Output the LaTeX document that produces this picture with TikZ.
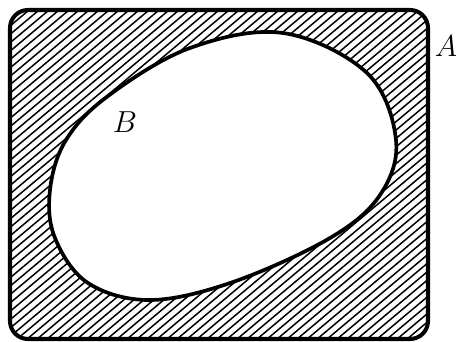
\documentclass[tikz,border=0pt]{standalone}
\usepackage{amsmath,amssymb}
\usepackage{tikz}
\usetikzlibrary{positioning}

\tikzset{
  setbox/.style={line width=2.3pt, rounded corners=0.36cm},
  setblob/.style={line width=2.1pt, fill=white},
  hatchline/.style={line width=0.85pt},
  setlabel/.style={font=\fontsize{19}{22}\selectfont, inner sep=0pt}
}

\begin{document}
\begin{tikzpicture}[x=0.02cm, y=-0.02cm]
  \useasboundingbox (0,0) rectangle (459,341);
  % hatched set A
  \begin{scope}
    \clip[rounded corners=0.36cm] (10,10) rectangle (428,339);
    \foreach \i in {-420,-410,...,440}
      \draw[hatchline] (\i,345) -- ++(411,-345);
  \end{scope}
  \draw[setbox] (10,10) rectangle (428,339);
  % set B
  \draw[setblob] plot[smooth cycle, tension=0.6] coordinates {
    (283,33) (367,73) (396,140) (380,195) (330,238) (233,282)
    (150,300) (88,283) (55,238) (50,190) (66,140) (108,96) (190,48)};
  \node[setlabel] (A) at (446,46) {$A$};
  \node[setlabel] (B) at (125,122) {$B$};
\end{tikzpicture}
\end{document}
